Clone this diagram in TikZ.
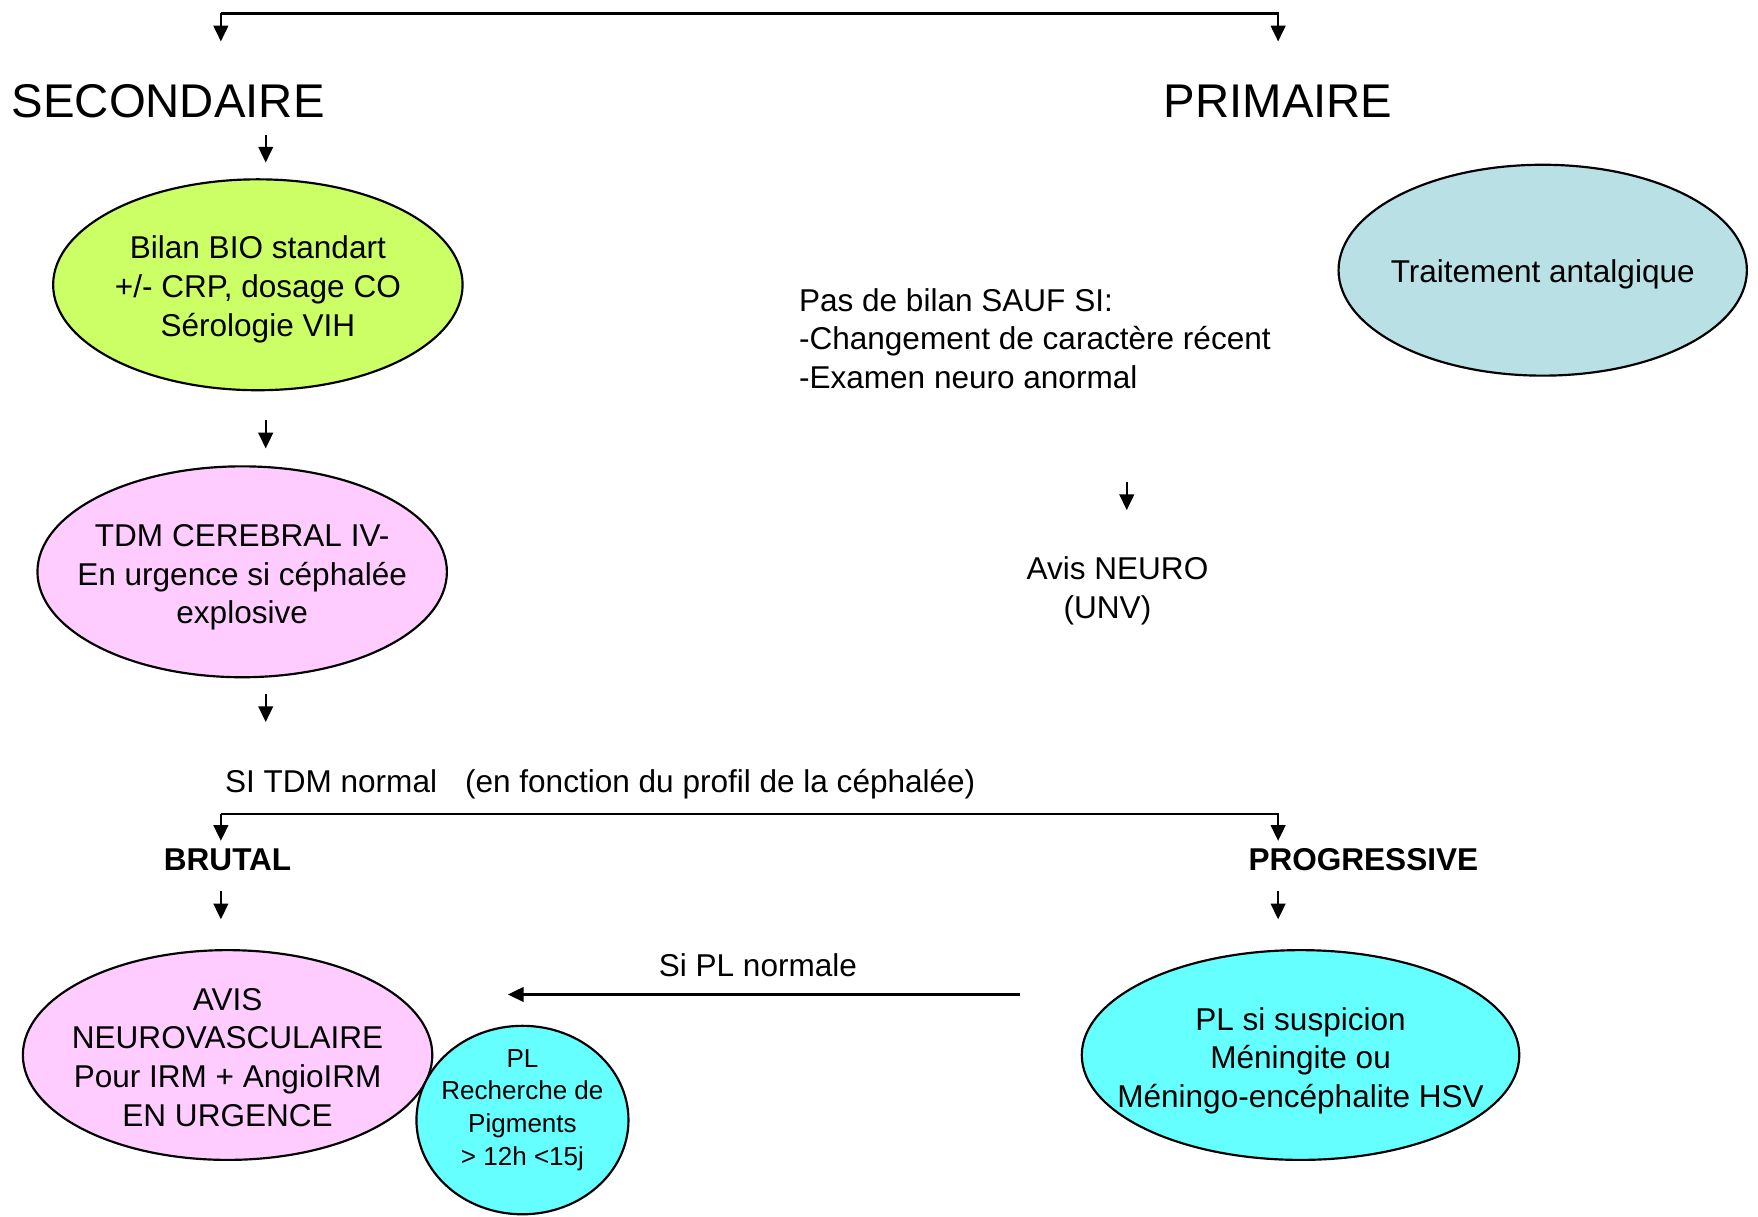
\documentclass[tikz,border=0pt]{standalone}
\usepackage{fontspec}
\setmainfont{Liberation Sans}
\usetikzlibrary{arrows.meta,shapes.geometric}
\definecolor{vertbio}{HTML}{CCFF66}
\definecolor{rosetdm}{HTML}{FFCCFF}
\definecolor{cyanpl}{HTML}{66FFFF}
\definecolor{bleutrt}{HTML}{B9E0E4}

\begin{document}
\begin{tikzpicture}[x=0.01cm,y=-0.01cm,
  bulle/.style={ellipse,draw,line width=0.55pt,inner sep=0pt},
  fleche/.style={-{Triangle[length=4pt,width=3.7pt]},line width=0.6pt},
  texte/.style={inner sep=0pt,align=center,font=\fontsize{8}{9.8}\selectfont},
  titre/.style={inner sep=0pt,font=\fontsize{12}{14}\selectfont}]
  \useasboundingbox (0,0) rectangle (1568,1085);

  \node[titre] (sec) at (150,90) {SECONDAIRE};
  \node[titre] (prim) at (1140,90) {PRIMAIRE};

  % bulles
  \node[bulle,fill=vertbio,minimum width=3.65cm,minimum height=1.88cm] (bio) at (230,254) {};
  \node[bulle,fill=bleutrt,minimum width=3.64cm,minimum height=1.88cm] (trt) at (1376,241) {};
  \node[bulle,fill=rosetdm,minimum width=3.65cm,minimum height=1.88cm] (tdm) at (216,510) {};
  \node[bulle,fill=rosetdm,minimum width=3.65cm,minimum height=1.87cm] (avis) at (203,941) {};
  \node[bulle,fill=cyanpl,minimum width=1.89cm,minimum height=1.68cm] (pl) at (466,999) {};
  \node[bulle,fill=cyanpl,minimum width=3.9cm,minimum height=1.87cm] (plsusp) at (1160,941) {};

  \node[texte] (biotxt) at (230,258) {Bilan BIO standart\\+/- CRP, dosage CO\\Sérologie VIH};
  \node[texte] (trttxt) at (1376,245) {Traitement antalgique};
  \node[texte] (tdmtxt) at (216,515) {TDM CEREBRAL IV-\\En urgence si céphalée\\explosive};
  \node[texte] (avistxt) at (203,943) {AVIS\\NEUROVASCULAIRE\\Pour IRM + AngioIRM\\EN URGENCE};
  \node[texte,font=\fontsize{6.6}{8.25}\selectfont] (pltxt) at (466,990) {PL\\Recherche de\\Pigments\\> 12h <15j};
  \node[texte] (plsusptxt) at (1160,946) {PL si suspicion\\Méningite ou\\Méningo-encéphalite HSV};

  \node[texte,align=left,anchor=west] (bilan) at (712,302) {Pas de bilan SAUF SI:\\-Changement de caractère récent\\-Examen neuro anormal};
  \node[texte,align=left,anchor=west] (neuro) at (915,527) {Avis NEURO\\\hspace{0.33cm}(UNV)};
  \node[texte,anchor=west] (sitdm) at (200,699) {SI TDM normal\hspace{0.25cm}(en fonction du profil de la céphalée)};
  \node[texte,font=\fontsize{8}{9.8}\selectfont\bfseries] (brutal) at (203,767) {BRUTAL};
  \node[texte,font=\fontsize{8}{9.8}\selectfont\bfseries] (prog) at (1216,767) {PROGRESSIVE};
  \node[texte] (sipl) at (676,861) {Si PL normale};

  % embranchements
  \coordinate (hautG) at (197,37);
  \coordinate (hautD) at (1140,37);
  \draw[fleche] (hautG |- 0,12) -- (hautG);
  \draw[fleche] (hautG |- 0,12) -- (hautD |- 0,12) -- (hautD);
  \coordinate (milG) at (197,750);
  \coordinate (milD) at (1140,750);
  \draw[fleche] (milG |- 0,726) -- (milG);
  \draw[fleche] (milG |- 0,726) -- (milD |- 0,726) -- (milD);

  % petites fleches
  \coordinate (d1) at (237,120); \coordinate (f1) at (237,145);
  \coordinate (d2) at (237,375); \coordinate (f2) at (237,400);
  \coordinate (d3) at (237,619); \coordinate (f3) at (237,644);
  \coordinate (d4) at (1005,430); \coordinate (f4) at (1005,455);
  \coordinate (d5) at (197,795); \coordinate (f5) at (197,820);
  \coordinate (d6) at (1140,795); \coordinate (f6) at (1140,820);
  \draw[fleche] (d1) -- (f1);
  \draw[fleche] (d2) -- (f2);
  \draw[fleche] (d3) -- (f3);
  \draw[fleche] (d4) -- (f4);
  \draw[fleche] (d5) -- (f5);
  \draw[fleche] (d6) -- (f6);

  \coordinate (plD) at (910,887);
  \coordinate (plG) at (453,887);
  \draw[fleche] (plD) -- (plG);
\end{tikzpicture}
\end{document}
